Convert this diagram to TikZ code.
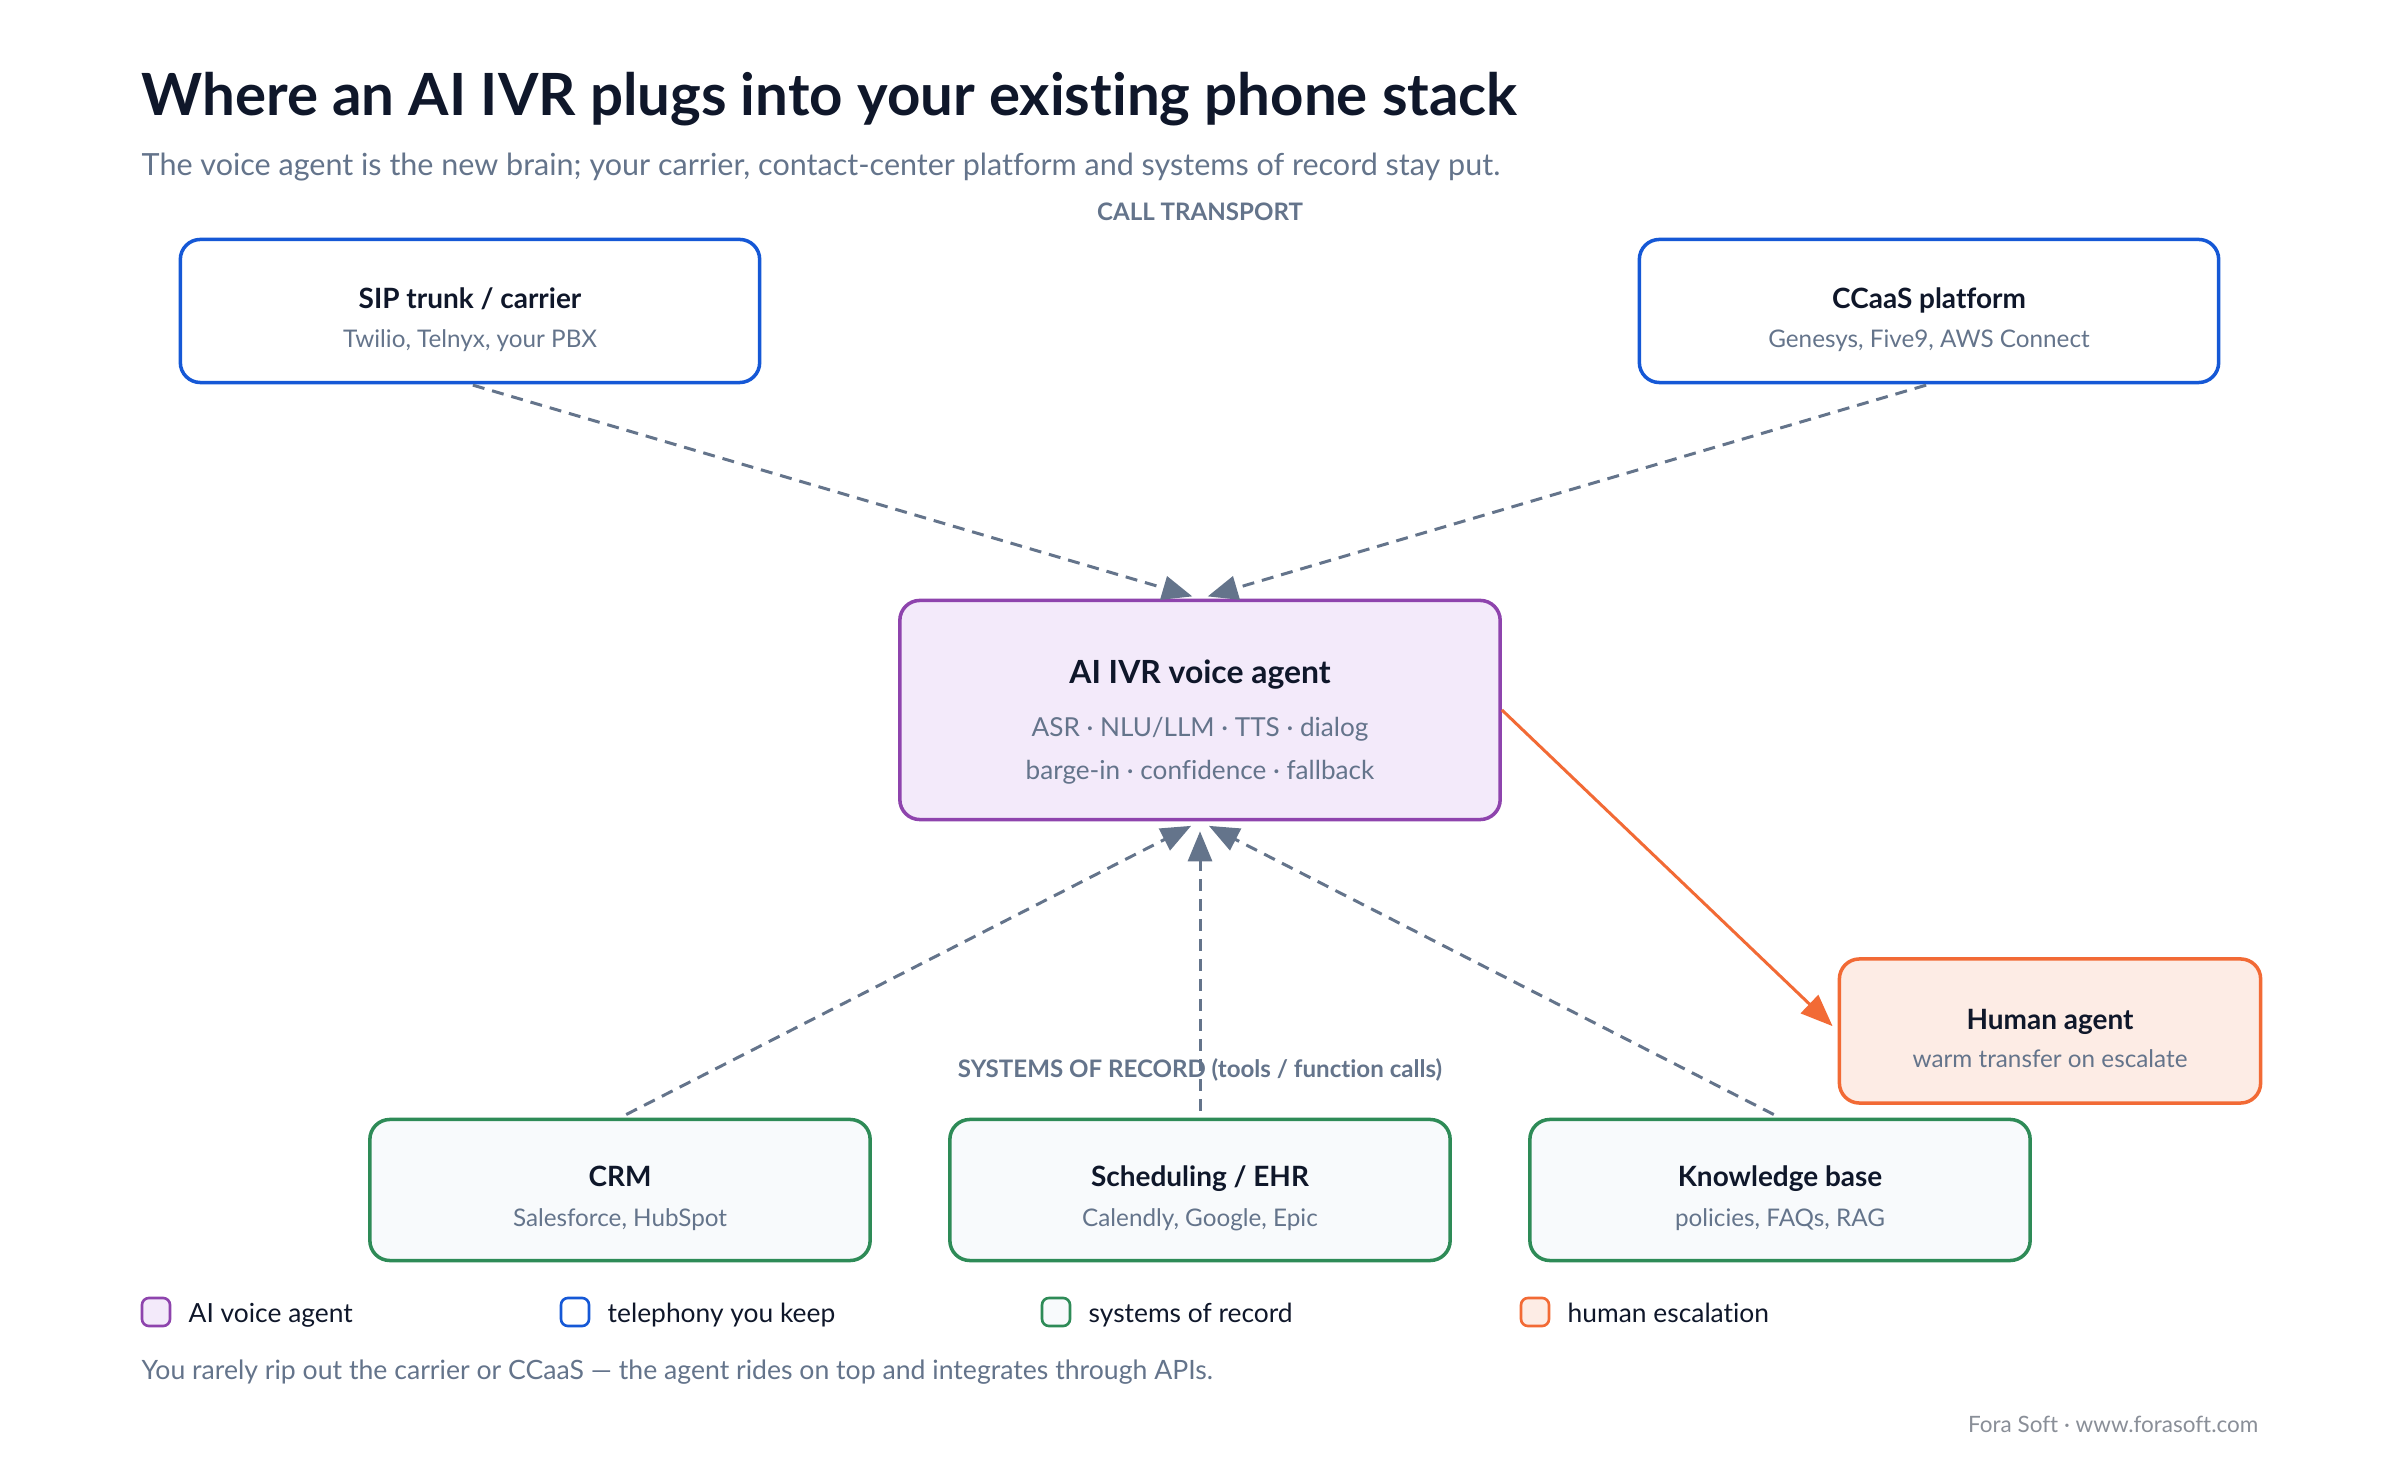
\documentclass[tikz,border=0pt]{standalone}
\usepackage{fontspec}
\setmainfont{Lato}[Ligatures=NoCommon]
\usetikzlibrary{arrows.meta, positioning}

\definecolor{ink}{HTML}{0F172A}
\definecolor{slate}{HTML}{64748B}
\definecolor{telblue}{HTML}{1558D6}
\definecolor{aipurple}{HTML}{8E44AD}
\definecolor{aifill}{HTML}{F3EAFA}
\definecolor{sorgreen}{HTML}{2E8B57}
\definecolor{sorfill}{HTML}{F8FAFC}
\definecolor{escorange}{HTML}{F26A35}
\definecolor{escfill}{HTML}{FDECE5}
\definecolor{creditgray}{HTML}{8A8F98}

\begin{document}
\begin{tikzpicture}[
        x=0.01cm, y=-0.01cm, inner sep=0pt,
        box/.style={rectangle, rounded corners=0.2cm, line width=1pt},
        telbox/.style={box, draw=telblue, fill=white, minimum width=5.79cm, minimum height=1.43cm},
        aibox/.style={box, draw=aipurple, fill=aifill, minimum width=6.0cm, minimum height=2.19cm},
        sorbox/.style={box, draw=sorgreen, fill=sorfill, minimum width=5.0cm, minimum height=1.41cm},
        escbox/.style={box, draw=escorange, fill=escfill, minimum width=4.21cm, minimum height=1.44cm},
        boxtitle/.style={anchor=base, text=ink, font=\fontsize{7.95}{10}\selectfont\bfseries},
        boxsub/.style={anchor=base, text=slate, font=\fontsize{6.9}{8}\selectfont},
        agentsub/.style={anchor=base, text=slate, font=\fontsize{7.43}{9}\selectfont},
        tag/.style={anchor=base, text=slate, font=\fontsize{6.85}{8}\selectfont\bfseries},
        flow/.style={draw=slate, line width=0.85pt, dash pattern=on 0.12cm off 0.08cm,
            -{Triangle[length=0.3cm, width=0.24cm, fill=slate]}},
        handoff/.style={draw=escorange, line width=0.85pt,
            -{Triangle[length=0.32cm, width=0.25cm, fill=escorange]}},
        keybox/.style={rectangle, rounded corners=0.07cm, line width=0.75pt, minimum size=0.28cm},
        keytext/.style={anchor=base west, text=ink, font=\fontsize{7.5}{9}\selectfont}
    ]
        \useasboundingbox[fill=white] (0,0) rectangle (2400,1480);

        \node[anchor=base west, text=ink, font=\fontsize{16.55}{20}\selectfont\bfseries] (title) at (141,116)
            {Where an AI IVR plugs into your existing phone stack};
        \node[anchor=base west, text=slate, font=\fontsize{8.68}{10}\selectfont] (subtitle) at (141,176)
            {The voice agent is the new brain; your carrier, contact-center platform and systems of record stay put.};
        \node[tag] (transport) at (1200,221) {CALL TRANSPORT};

        % telephony you keep
        \node[telbox] (sip) at (470,311) {};
        \node[boxtitle] (siptitle) at (470,309) {SIP trunk / carrier};
        \node[boxsub] (sipsub) at (470,348) {Twilio, Telnyx, your PBX};
        \node[telbox] (ccaas) at (1929,311) {};
        \node[boxtitle] (ccaastitle) at (1929,309) {CCaaS platform};
        \node[boxsub] (ccaassub) at (1929,348) {Genesys, Five9, AWS Connect};

        % the agent
        \node[aibox] (agent) at (1200,710) {};
        \node[boxtitle, font=\fontsize{9.07}{11}\selectfont\bfseries] (agenttitle) at (1200,684) {AI IVR voice agent};
        \node[agentsub] (agentsub1) at (1200,737) {ASR · NLU/LLM · TTS · dialog};
        \node[agentsub] (agentsub2) at (1200,780) {barge-in · confidence · fallback};

        % systems of record
        \foreach \nm/\cx/\ttl/\sub in {crm/620/CRM/{Salesforce, HubSpot},
                sched/1200/{Scheduling / EHR}/{Calendly, Google, Epic},
                kb/1780/{Knowledge base}/{policies, FAQs, RAG}} {
            \node[sorbox] (\nm) at (\cx,1190) {};
            \node[boxtitle] (\nm title) at (\cx,1187) {\ttl};
            \node[boxsub] (\nm sub) at (\cx,1226) {\sub};
        }
        \node[tag] (records) at (1200,1078) {SYSTEMS OF RECORD (tools / function calls)};

        % escalation
        \node[escbox] (human) at (2050,1031) {};
        \node[boxtitle] (humantitle) at (2050,1030) {Human agent};
        \node[boxsub] (humansub) at (2050,1068) {warm transfer on escalate};

        \draw[flow, shorten <=0.03cm, shorten >=0.08cm] (sip.south) -- (agent.north);
        \draw[flow, shorten <=0.03cm, shorten >=0.08cm] (ccaas.south) -- (agent.north);
        \foreach \nm in {crm,sched,kb}
            \draw[flow, shorten <=0.07cm, shorten >=0.1cm] (\nm.north) -- (agent.south);
        \draw[handoff, shorten >=0.07cm] (agent.east) -- (human.west);

        % legend
        \foreach \lx/\fc/\dc/\txt in {141/aifill/aipurple/AI voice agent,
                560/white/telblue/telephony you keep,
                1041/sorfill/sorgreen/systems of record,
                1520/escfill/escorange/human escalation} {
            \node[keybox, fill=\fc, draw=\dc] (key\lx) at (\lx+15,1312) {};
            \node[keytext] (keylabel\lx) at (\lx+47,1322) {\txt};
        }

        \node[anchor=base west, text=slate, font=\fontsize{7.57}{9}\selectfont] (note) at (141,1379)
            {You rarely rip out the carrier or CCaaS — the agent rides on top and integrates through APIs.};
        \node[anchor=base east, text=creditgray, font=\fontsize{6.4}{8}\selectfont] (credit) at (2259,1432)
            {Fora Soft · www.forasoft.com};
    \end{tikzpicture}
\end{document}
